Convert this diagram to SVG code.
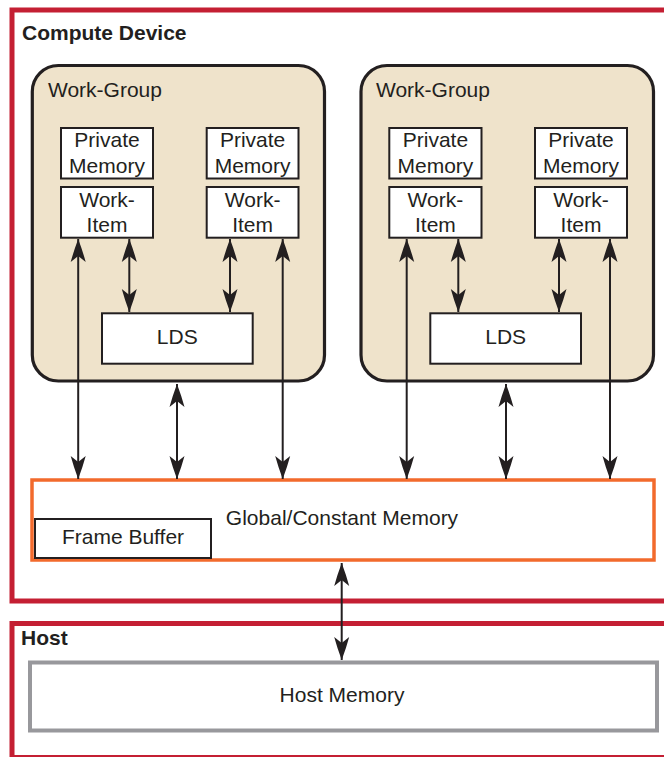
<svg xmlns="http://www.w3.org/2000/svg" width="664" height="757" viewBox="0 0 664 757">
  <style>
    text { font-family: "Liberation Sans", Arial, sans-serif; fill: #231f20; }
    .t { font-size: 21px; text-anchor: middle; }
    .title { font-size: 21px; font-weight: bold; }
    .wgl { font-size: 21px; }
    .region { fill: none; stroke: #c41f33; stroke-width: 5; }
    .wg { fill: #efe3cb; stroke: #231f20; stroke-width: 3.2; }
    .box { fill: #ffffff; stroke: #231f20; stroke-width: 2; }
    .conn { stroke: #231f20; stroke-width: 2; fill: none; marker-start: url(#ah); marker-end: url(#ah); }
  </style>
  <defs>
    <marker id="ah" markerUnits="userSpaceOnUse" markerWidth="30" markerHeight="20" viewBox="-24 -10 26 20" refX="0" refY="0" orient="auto-start-reverse" overflow="visible">
      <path d="M0,0 Q-12,-4.5 -23,-7.5 L-17,0 L-23,7.5 Q-12,4.5 0,0 Z" fill="#231f20"/>
    </marker>
  </defs>

  <g id="compute-device">
    <rect class="region" x="12" y="10" width="680" height="591"/>
    <text class="title" x="22" y="40">Compute Device</text>
  </g>

  <g id="host">
    <rect class="region" x="12" y="623.5" width="680" height="134"/>
    <text class="title" x="21" y="645">Host</text>
  </g>

  <g id="work-group-1">
    <rect class="wg" x="32.3" y="65.5" width="292.2" height="315.5" rx="26" ry="26"/>
    <text class="wgl" x="48" y="97">Work-Group</text>
  </g>
  <g id="work-group-2">
    <rect class="wg" x="361" y="65.5" width="292.5" height="315.5" rx="26" ry="26"/>
    <text class="wgl" x="376" y="97">Work-Group</text>
  </g>

  <g id="pm-1-1"><rect class="box" x="61" y="128" width="92" height="50.5"/><text class="t" x="107" y="147">Private</text><text class="t" x="107" y="173">Memory</text></g>
  <g id="wi-1-1"><rect class="box" x="61" y="187" width="92" height="50.7"/><text class="t" x="107" y="207">Work-</text><text class="t" x="107" y="232">Item</text></g>
  <g id="pm-1-2"><rect class="box" x="206.7" y="128" width="91.8" height="50.5"/><text class="t" x="252.6" y="147">Private</text><text class="t" x="252.6" y="173">Memory</text></g>
  <g id="wi-1-2"><rect class="box" x="206.7" y="187" width="91.8" height="50.7"/><text class="t" x="252.6" y="207">Work-</text><text class="t" x="252.6" y="232">Item</text></g>
  <g id="pm-2-1"><rect class="box" x="389.3" y="128" width="92.2" height="50.5"/><text class="t" x="435.4" y="147">Private</text><text class="t" x="435.4" y="173">Memory</text></g>
  <g id="wi-2-1"><rect class="box" x="389.3" y="187" width="92.2" height="50.7"/><text class="t" x="435.4" y="207">Work-</text><text class="t" x="435.4" y="232">Item</text></g>
  <g id="pm-2-2"><rect class="box" x="535" y="128" width="92" height="50.5"/><text class="t" x="581" y="147">Private</text><text class="t" x="581" y="173">Memory</text></g>
  <g id="wi-2-2"><rect class="box" x="535" y="187" width="92" height="50.7"/><text class="t" x="581" y="207">Work-</text><text class="t" x="581" y="232">Item</text></g>

  <g id="lds-1"><rect class="box" x="102" y="313.3" width="150.7" height="50.4"/><text class="t" x="177.3" y="344">LDS</text></g>
  <g id="lds-2"><rect class="box" x="430.3" y="313.3" width="150.7" height="50.4"/><text class="t" x="505.7" y="344">LDS</text></g>

  <g id="global-memory">
    <rect x="32" y="480" width="622" height="80" fill="#ffffff" stroke="#f26a2c" stroke-width="3.5"/>
    <text class="t" x="342" y="525">Global/Constant Memory</text>
  </g>
  <g id="frame-buffer">
    <rect class="box" x="35" y="519" width="176" height="39"/>
    <text class="t" x="123" y="544">Frame Buffer</text>
  </g>

  <g id="host-memory">
    <rect x="30" y="662.5" width="627" height="68" fill="#ffffff" stroke="#98989c" stroke-width="4"/>
    <text class="t" x="342" y="702">Host Memory</text>
  </g>

  <g id="connectors">
    <line class="conn" x1="78.2" y1="239" x2="78.2" y2="479"/>
    <line class="conn" x1="129.3" y1="239" x2="129.3" y2="312"/>
    <line class="conn" x1="230" y1="239" x2="230" y2="312"/>
    <line class="conn" x1="282.7" y1="239" x2="282.7" y2="479"/>
    <line class="conn" x1="177" y1="384" x2="177" y2="479"/>
    <line class="conn" x1="406.7" y1="239" x2="406.7" y2="479"/>
    <line class="conn" x1="458.3" y1="239" x2="458.3" y2="312"/>
    <line class="conn" x1="559" y1="239" x2="559" y2="312"/>
    <line class="conn" x1="610" y1="239" x2="610" y2="479"/>
    <line class="conn" x1="506" y1="384" x2="506" y2="479"/>
    <line class="conn" x1="341.7" y1="563" x2="341.7" y2="660"/>
  </g>
</svg>
